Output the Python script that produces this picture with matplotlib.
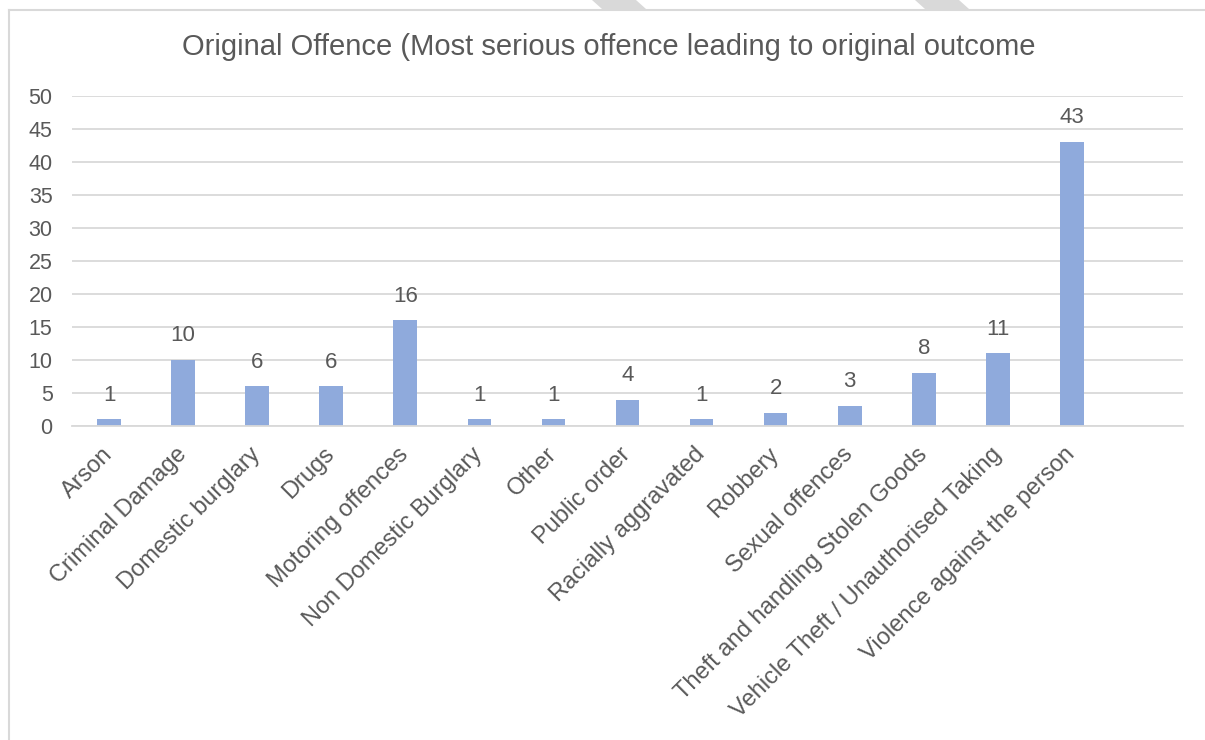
import matplotlib.pyplot as plt
from matplotlib.patches import Polygon
from matplotlib.lines import Line2D

plt.rcParams['font.family'] = ['Liberation Sans', 'DejaVu Sans']

offences = ['Arson', 'Criminal Damage', 'Domestic burglary', 'Drugs', 'Motoring offences',
            'Non Domestic Burglary', 'Other', 'Public order', 'Racially aggravated', 'Robbery',
            'Sexual offences', 'Theft and handling Stolen Goods',
            'Vehicle Theft / Unauthorised Taking', 'Violence against the person']
counts = [1, 10, 6, 6, 16, 1, 1, 4, 1, 2, 3, 8, 11, 43]

text_col = '#595959'
bar_col = '#8FAADC'
grid_col = '#D9D9D9'

W, H = 1205, 740
fig = plt.figure(figsize=(W / 100, H / 100), dpi=100)

# grey diagonal stripes poking out above the chart frame
for x0 in (592, 915):
    fig.patches.append(Polygon([(x0 / W, 1), ((x0 + 44) / W, 1),
                                ((x0 + 54) / W, 1 - 9 / H), ((x0 + 10) / W, 1 - 9 / H)],
                               closed=True, transform=fig.transFigure,
                               facecolor='#D9D9D9', edgecolor='none', zorder=0))

# chart frame (left and top edges are the only visible ones)
fig.lines.append(Line2D([8.5 / W, 8.5 / W], [0, 1 - 9.5 / H], transform=fig.transFigure,
                        color=grid_col, lw=1.5))
fig.lines.append(Line2D([8.5 / W, 1], [1 - 9.5 / H, 1 - 9.5 / H], transform=fig.transFigure,
                        color=grid_col, lw=1.5))

ax = fig.add_axes([72 / W, 1 - 426 / H, 1111 / W, 330 / H])
x = list(range(len(offences)))
ax.bar(x, counts, width=0.32, color=bar_col, zorder=2)

for xi, v in zip(x, counts):
    ax.annotate(str(v), (xi, v), xytext=(0, 10), textcoords='offset points',
                ha='center', va='bottom', fontsize=16, color=text_col)

ax.set_xlim(-0.5, len(offences) + 0.5)
ax.set_ylim(0, 50)
ax.set_yticks(range(0, 51, 5))
ax.grid(axis='y', color=grid_col, lw=1.3, zorder=0)
ax.set_axisbelow(True)
for s in ['top', 'right', 'left']:
    ax.spines[s].set_visible(False)
ax.spines['bottom'].set_color(grid_col)
ax.spines['bottom'].set_linewidth(1.3)

ax.set_xticks(x)
ax.set_xticklabels(offences, rotation=45, ha='right', va='center', rotation_mode='anchor',
                   fontsize=17, color=text_col)
ax.tick_params(axis='x', length=0, pad=18)
ax.tick_params(axis='y', length=0, labelsize=15.5, labelcolor=text_col, pad=14)

fig.text(609 / W, 1 - 47 / H, 'Original Offence (Most serious offence leading to original outcome',
         ha='center', va='center', fontsize=21, color=text_col)

fig.savefig('out.png', dpi=100)
